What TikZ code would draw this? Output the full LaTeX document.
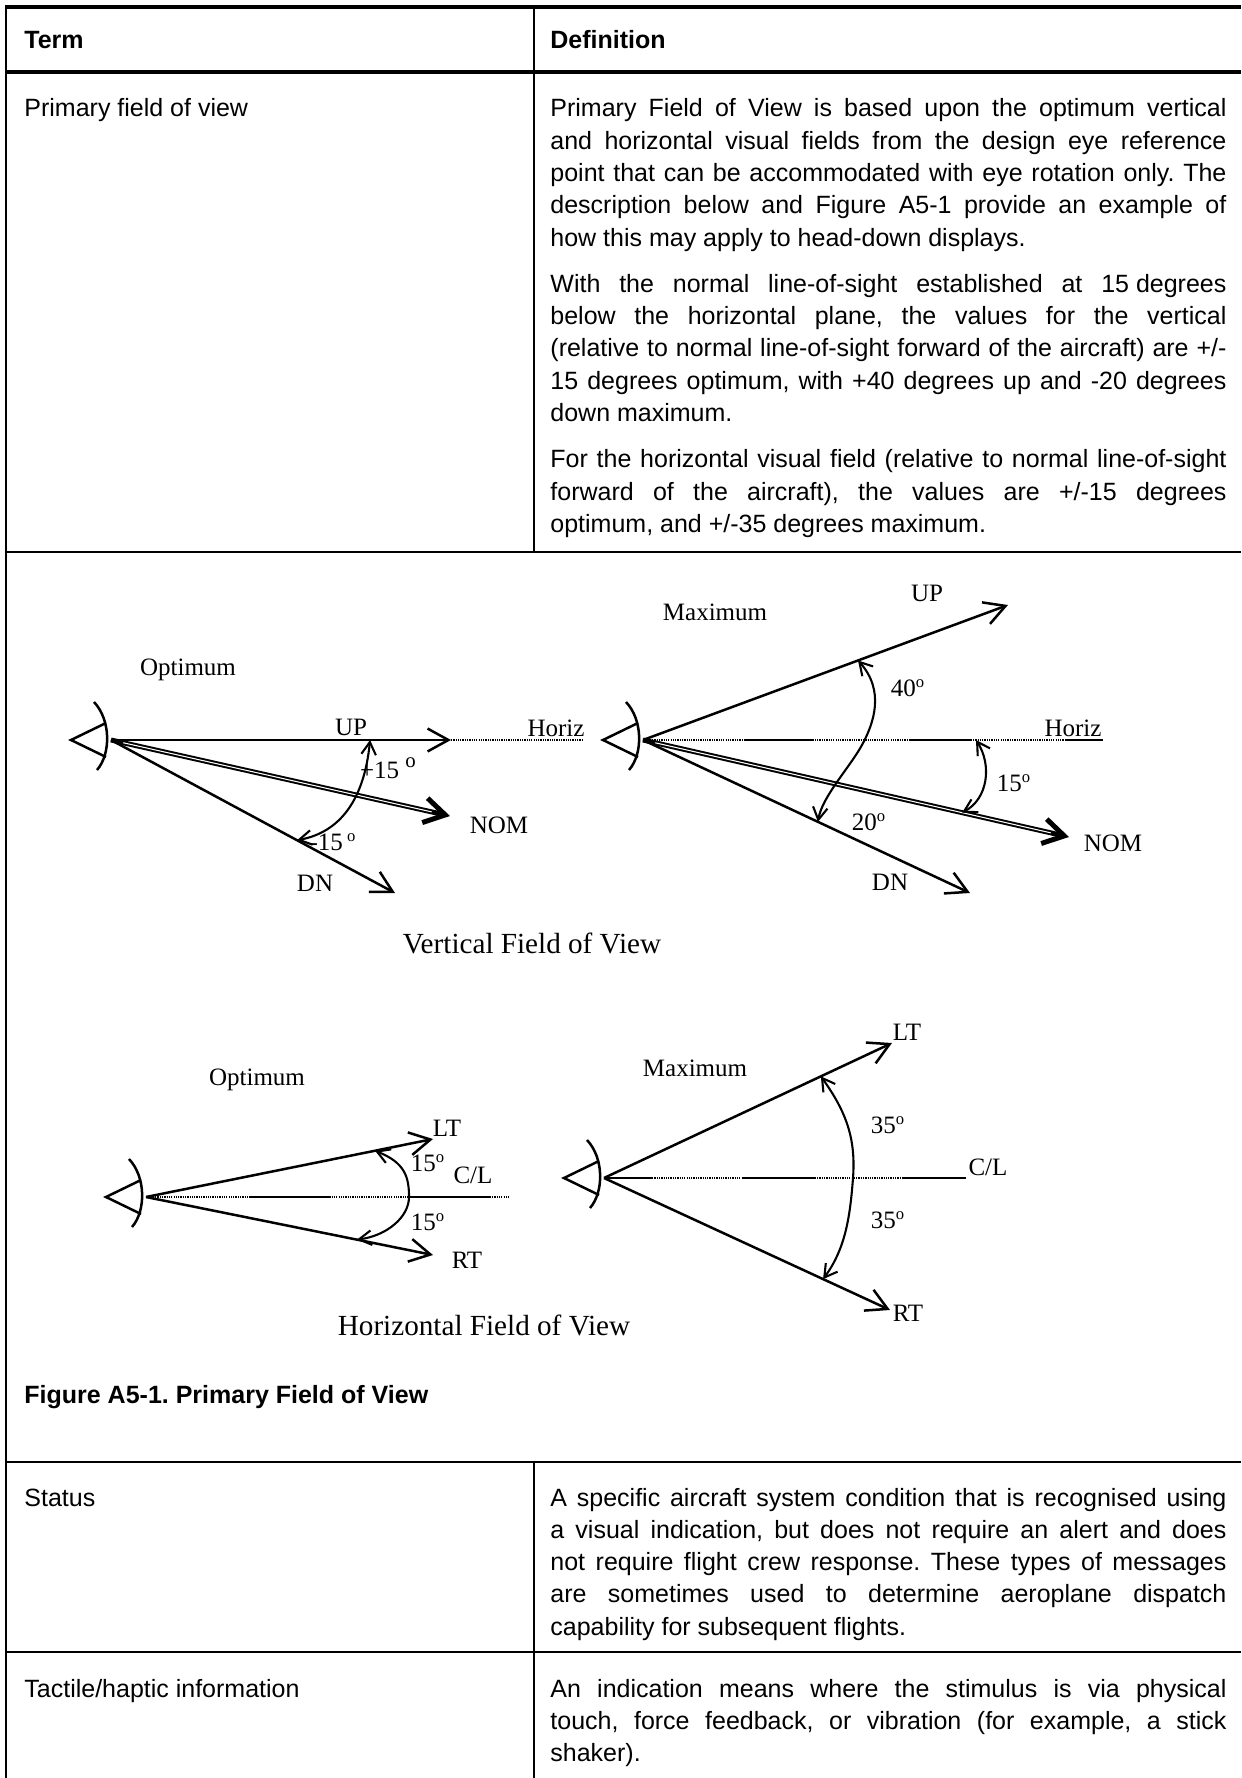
\documentclass[tikz,border=0pt]{standalone}
\usepackage{fontspec}
\setmainfont{Liberation Serif}
\newfontfamily\arial{Liberation Sans}[Ligatures=CommonOff]
\usetikzlibrary{arrows.meta,calc}
\tolerance=10000
\hbadness=10000
\hyphenpenalty=10000
\exhyphenpenalty=10000
\frenchspacing

\tikzset{
  ray/.style={line width=1.2pt, -{Straight Barb[length=10pt,width=11pt]}},
  nomray/.style={line width=2.4pt, -{Straight Barb[length=10pt,width=12pt]}},
  nomcore/.style={white, line width=0.5pt, shorten >=9pt, shorten <=6pt},
  sweep/.style={line width=1pt, {Straight Barb[length=6pt,width=7pt]}-{Straight Barb[length=6pt,width=7pt]}},
  refdot/.style={line width=0.7pt, dash pattern=on 0.6pt off 0.5pt},
  refline/.style={line width=0.8pt},
  eyeline/.style={line width=1.2pt},
  lbl/.style={font=\fontsize{12}{14}\selectfont, inner sep=0pt},
  ttl/.style={font=\fontsize{14}{16}\selectfont, inner sep=0pt},
  cell/.style={font=\arial\fontsize{12}{15.5}\selectfont, inner sep=0pt, anchor=base west},
  headcell/.style={cell, font=\arial\bfseries\fontsize{12}{15.5}\selectfont},
  celltext/.style={cell, text width=324.5pt, align=justify},
  thickrule/.style={line width=2.2pt},
  rule/.style={line width=1.3pt},
}

% eye symbol at the origin of a set of rays
\newcommand{\eyemark}[1]{%
  \draw[eyeline] ($(#1)+(-5,-17)$) -- ($(#1)+(-40,0)$) -- ($(#1)+(-5,17)$);
  \draw[eyeline] ($(#1)+(-17,-38)$) .. controls +(17,18) and +(14,-16) .. ($(#1)+(-14,30)$);
}
\newcommand{\degsup}{\textsuperscript{o}}

\begin{document}
\begin{tikzpicture}[x=0.48pt,y=-0.48pt]
  \useasboundingbox (0,0) rectangle (1241,1778);

  % table
  \draw[thickrule] (6,7) -- (1241,7);
  \draw[thickrule] (6,72) -- (1241,72);
  \draw[rule] (6,552) -- (1241,552);
  \draw[rule] (6,1462) -- (1241,1462);
  \draw[rule] (6,1652) -- (1241,1652);
  \draw[rule] (6,5) -- (6,1778);
  \draw[rule] (534,7) -- (534,552);
  \draw[rule] (534,1462) -- (534,1778);

  \node[headcell] (hterm) at (24,49) {Term};
  \node[headcell] (hdef) at (550,49) {Definition};

  \node[cell] (tpfov) at (24,117) {Primary field of view};
  \node[celltext] (dpfov) at (550,117) {Primary Field of View is based upon the optimum vertical\linebreak
    and horizontal visual fields from the design eye reference\linebreak
    point that can be accommodated with eye rotation only. The\linebreak
    description below and Figure A5-1 provide an example of\linebreak
    how this may apply to head-down displays.\par\vspace{6.7pt}
    With the normal line-of-sight established at 15\nobreak\hspace{0.278em}degrees\linebreak
    below the horizontal plane, the values for the vertical\linebreak
    (relative to normal line-of-sight forward of the aircraft) are +/-\linebreak
    15 degrees optimum, with +40 degrees up and -20 degrees\linebreak
    down maximum.\par\vspace{6.7pt}
    For the horizontal visual field (relative to normal line-of-sight\linebreak
    forward of the aircraft), the values are +/-15 degrees\linebreak
    optimum, and +/-35 degrees maximum.};

  % vertical field of view, optimum
  \coordinate (vo) at (111,740);
  \coordinate (vo-up) at (451,740);
  \coordinate (vo-hz) at (583,740);
  \coordinate (vo-nom) at (450,816);
  \coordinate (vo-dn) at (395,893);
  \coordinate (vo-a) at ($(vo)!0.762!(vo-up)$);
  \coordinate (vo-b) at ($(vo)!0.655!(vo-dn)$);
  \eyemark{vo}
  \draw[refdot] (vo-up) -- (vo-hz);
  \draw[ray] (vo) -- (vo-up);
  \draw[ray] (vo) -- (vo-dn);
  \draw[nomray] (vo) -- (vo-nom);
  \draw[nomcore] (vo) -- (vo-nom);
  \draw[sweep] (vo-a) .. controls +(-6,60) and +(43,-8) .. (vo-b);
  \node[lbl] (vo-t) at (188,670) {Optimum};
  \node[lbl] (vo-lup) at (351,727) {UP};
  \node[lbl] (vo-lhz) at (556,728) {Horiz};
  \node[lbl] (vo-lnom) at (499,825) {NOM};
  \node[lbl] (vo-ldn) at (315,883) {DN};
  \node[lbl] (vo-p15) at (388,768) {+15 \raisebox{0.45em}{\fontsize{10}{10}\selectfont o}};
  \node[lbl] (vo-m15) at (333,842) {-15\,\degsup};

  % vertical field of view, maximum
  \coordinate (vm) at (643,740);
  \coordinate (vm-up) at (1008,605);
  \coordinate (vm-hz) at (1103,740);
  \coordinate (vm-nom) at (1069,837);
  \coordinate (vm-dn) at (970,893);
  \coordinate (vm-a) at ($(vm)!0.589!(vm-up)$);
  \coordinate (vm-b) at ($(vm)!0.535!(vm-dn)$);
  \coordinate (vm-c) at (976,740);
  \coordinate (vm-d) at ($(vm)!0.749!(vm-nom)$);
  \eyemark{vm}
  \draw[refdot] (vm) -- (vm-hz);
  \foreach \a/\b in {744/814, 909/972, 1065/1103}
    \draw[refline] (\a,740) -- (\b,740);
  \draw[ray] (vm) -- (vm-up);
  \draw[ray] (vm) -- (vm-dn);
  \draw[nomray] (vm) -- (vm-nom);
  \draw[nomcore] (vm) -- (vm-nom);
  \draw[sweep] (vm-a) .. controls +(27,30) and +(12,-22) .. (862,745)
    .. controls +(-12,22) and +(4,-25) .. (vm-b);
  \draw[sweep] (vm-c) .. controls +(16,25) and +(26,-14) .. (vm-d);
  \node[lbl] (vm-t) at (715,612) {Maximum};
  \node[lbl] (vm-lup) at (927,593) {UP};
  \node[lbl] (vm-l40) at (908,688) {40\degsup};
  \node[lbl] (vm-lhz) at (1073,728) {Horiz};
  \node[lbl] (vm-l15) at (1014,783) {15\degsup};
  \node[lbl] (vm-l20) at (869,822) {20\degsup};
  \node[lbl] (vm-lnom) at (1113,843) {NOM};
  \node[lbl] (vm-ldn) at (890,882) {DN};

  \node[ttl] (vtitle) at (532,943) {Vertical Field of View};

  % horizontal field of view, optimum
  \coordinate (ho) at (146,1197);
  \coordinate (ho-lt) at (433,1139);
  \coordinate (ho-rt) at (433,1255);
  \coordinate (ho-cl) at (510,1197);
  \coordinate (ho-a) at ($(ho)!0.798!(ho-lt)$);
  \coordinate (ho-b) at ($(ho)!0.735!(ho-rt)$);
  \eyemark{ho}
  \draw[refdot] (ho) -- (ho-cl);
  \foreach \a/\b in {250/330, 410/490}
    \draw[refline] (\a,1197) -- (\b,1197);
  \draw[ray] (ho) -- (ho-lt);
  \draw[ray] (ho) -- (ho-rt);
  \draw[sweep] (ho-a) .. controls +(30,12) and +(0,-20) .. (409,1197)
    .. controls +(0,20) and +(30,-4) .. (ho-b);
  \node[lbl] (ho-t) at (257,1080) {Optimum};
  \node[lbl] (ho-llt) at (447,1128) {LT};
  \node[lbl] (ho-l1) at (428,1163) {15\degsup};
  \node[lbl] (ho-lcl) at (473,1175) {C/L};
  \node[lbl] (ho-l2) at (428,1222) {15\degsup};
  \node[lbl] (ho-lrt) at (467,1260) {RT};

  % horizontal field of view, maximum
  \coordinate (hm) at (604,1178);
  \coordinate (hm-lt) at (892,1043);
  \coordinate (hm-rt) at (890,1310);
  \coordinate (hm-cl) at (966,1178);
  \coordinate (hm-a) at ($(hm)!0.753!(hm-lt)$);
  \coordinate (hm-b) at ($(hm)!0.766!(hm-rt)$);
  \eyemark{hm}
  \draw[refdot] (hm) -- (hm-cl);
  \foreach \a/\b in {604/652, 742/815, 902/966}
    \draw[refline] (\a,1178) -- (\b,1178);
  \draw[ray] (hm) -- (hm-lt);
  \draw[ray] (hm) -- (hm-rt);
  \draw[sweep] (hm-a) .. controls +(25,35) and +(3,-40) .. (853,1178)
    .. controls +(-3,40) and +(22,-30) .. (hm-b);
  \node[lbl] (hm-t) at (695,1068) {Maximum};
  \node[lbl] (hm-llt) at (907,1032) {LT};
  \node[lbl] (hm-l1) at (888,1125) {35\degsup};
  \node[lbl] (hm-lcl) at (988,1167) {C/L};
  \node[lbl] (hm-l2) at (888,1220) {35\degsup};
  \node[lbl] (hm-lrt) at (908,1313) {RT};

  \node[ttl] (htitle) at (484,1325) {Horizontal Field of View};

  \node[cell, font=\arial\bfseries\fontsize{12}{15.5}\selectfont] (cap) at (24,1403) {Figure A5-1. Primary Field of View};

  % status and tactile rows
  \node[cell] (tstat) at (24,1506) {Status};
  \node[celltext] (dstat) at (550,1506) {A specific aircraft system condition that is recognised using\linebreak
    a visual indication, but does not require an alert and does\linebreak
    not require flight crew response. These types of messages\linebreak
    are sometimes used to determine aeroplane dispatch\linebreak
    capability for subsequent flights.};
  \node[cell] (ttact) at (24,1697) {Tactile/haptic information};
  \node[celltext] (dtact) at (550,1697) {An indication means where the stimulus is via physical\linebreak
    touch, force feedback, or vibration (for example, a stick\linebreak
    shaker).};
\end{tikzpicture}
\end{document}
